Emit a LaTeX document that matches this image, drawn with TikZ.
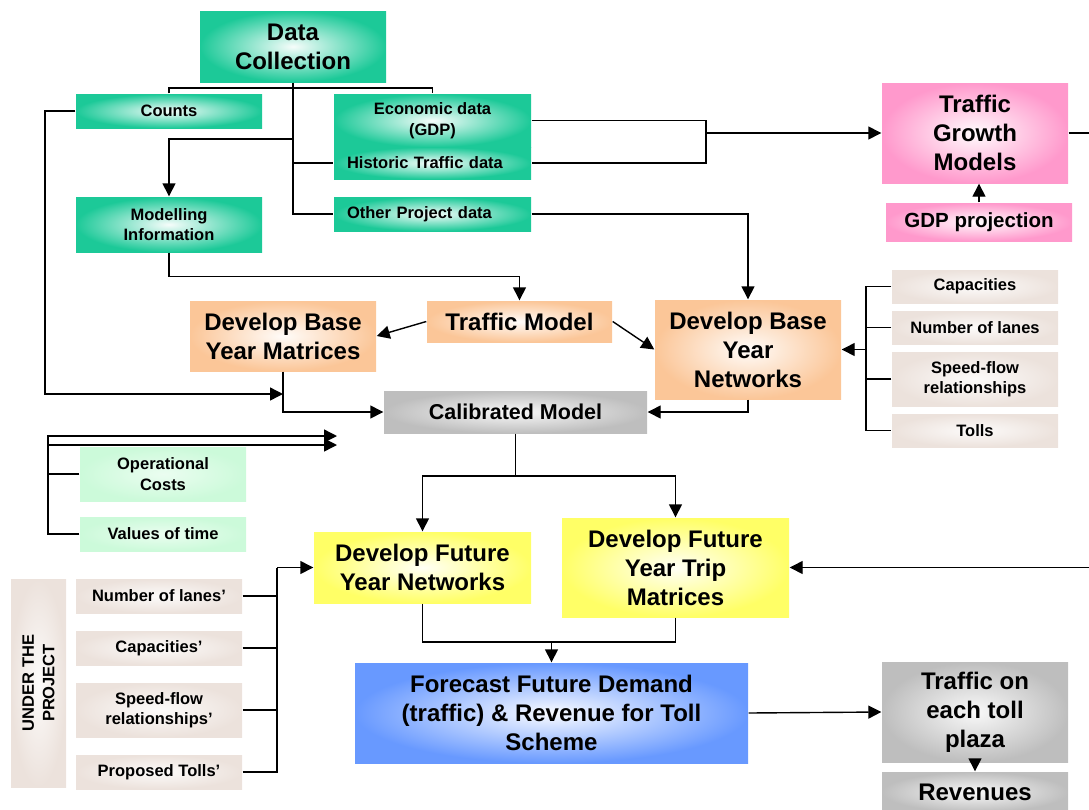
\documentclass[tikz,border=0pt]{standalone}
\usepackage{fontspec}
\setmainfont{Liberation Sans}
\usetikzlibrary{arrows.meta}
\definecolor{cTeal}{RGB}{28,201,152}
\definecolor{cPink}{RGB}{255,153,204}
\definecolor{cPeach}{RGB}{251,198,152}
\definecolor{cBeige}{RGB}{236,226,220}
\definecolor{cGray}{RGB}{190,190,190}
\definecolor{cLGreen}{RGB}{204,250,218}
\definecolor{cYellow}{RGB}{255,255,102}
\definecolor{cBlue}{RGB}{104,153,255}
\begin{document}
\begin{tikzpicture}[x=1pt,y=-1pt,line width=1.4pt,
  arr/.style={-{Triangle[length=13pt,width=13pt]}},
  bx/.style={inner sep=0pt,align=center,shade,shading=radial},
  big/.style={font=\fontsize{24}{29}\selectfont\bfseries},
  mid/.style={font=\fontsize{21.5}{26}\selectfont\bfseries},
  sm/.style={font=\fontsize{16.5}{20.5}\selectfont\bfseries},
  gr/.style={bx,inner color=cTeal!4!white,outer color=cTeal},
  pk/.style={bx,inner color=cPink!4!white,outer color=cPink},
  pe/.style={bx,inner color=cPeach!6!white,outer color=cPeach},
  be/.style={bx,inner color=cBeige!15!white,outer color=cBeige},
  gy/.style={bx,inner color=cGray!10!white,outer color=cGray},
  lg/.style={bx,inner color=cLGreen!40!white,outer color=cLGreen},
  ye/.style={bx,inner color=cYellow!6!white,outer color=cYellow},
  bl/.style={bx,inner color=cBlue!4!white,outer color=cBlue},
  sz/.style 2 args={minimum width=#1pt,minimum height=#2pt}
]
\useasboundingbox (0,0) rectangle (1089,809);

% top green boxes
\node[gr,big,sz={186}{71}] (dc) at (293,46.5) {Data\\Collection};
\node[gr,sm,sz={186}{34}] (counts) at (169,111) {Counts};
\node[gr,sm,sz={197}{53}] (econ) at (432.5,120.5) {Economic data\\(GDP)};
\node[gr,sm,inner xsep=13pt,text width=171pt,align=left,minimum height=32pt] (hist) at (432.5,163) {Historic Traffic data};
\node[gr,sm,sz={186}{55}] (mod) at (169,224.5) {Modelling\\Information};
\node[gr,sm,inner xsep=13pt,text width=171pt,align=left,minimum height=34pt] (other) at (432.5,214) {Other Project data};

% pink
\node[pk,big,sz={186}{100}] (tgm) at (975,133) {Traffic\\Growth\\Models};
\node[pk,font=\fontsize{20.5}{24}\selectfont\bfseries,sz={186}{38}] (gdp) at (979,222) {GDP projection};

% peach
\node[pe,big,sz={185}{41}] (tm) at (519.5,321.5) {Traffic Model};
\node[pe,big,sz={186}{70}] (bym) at (283,336) {Develop Base\\Year Matrices};
\node[pe,big,sz={186}{99}] (byn) at (748,349.5) {Develop Base\\Year\\Networks};

% beige right
\node[be,sm,sz={166}{33}] (cap) at (975,286.5) {Capacities};
\node[be,sm,sz={166}{33}] (nol) at (975,327.5) {Number of lanes};
\node[be,sm,sz={166}{54}] (sfr) at (975,379) {Speed-flow\\relationships};
\node[be,sm,sz={166}{33}] (tolls) at (975,430.5) {Tolls};

% calibrated
\node[gy,mid,sz={263}{42}] (cal) at (515.5,412) {Calibrated Model};

% light green
\node[lg,sm,sz={166}{54}] (opc) at (163,474) {Operational\\Costs};
\node[lg,sm,sz={166}{34}] (vot) at (163,534) {Values of time};

% yellow
\node[ye,big,sz={217}{71}] (fyn) at (422.5,567.5) {Develop Future\\Year Networks};
\node[ye,big,sz={227}{99}] (ftm) at (675.5,567.5) {Develop Future\\Year Trip\\Matrices};

% under the project
\node[be,sm,rotate=90,sz={208}{55}] (utp) at (38.5,683) {UNDER THE\\PROJECT};
\node[be,sm,sz={166}{34}] (nol2) at (159,596) {Number of lanes’};
\node[be,sm,sz={166}{34}] (cap2) at (159,648) {Capacities’};
\node[be,sm,sz={166}{54}] (sfr2) at (159,710) {Speed-flow\\relationships’};
\node[be,sm,sz={166}{34}] (pt2) at (159,772) {Proposed Tolls’};

% bottom
\node[bl,big,sz={393}{100}] (fc) at (551.5,713) {Forecast Future Demand\\(traffic) \& Revenue for Toll\\Scheme};
\node[gy,big,sz={186}{100}] (tp) at (975,712) {Traffic on\\each toll\\plaza};
\node[gy,big,sz={186}{40}] (rev) at (975,792) {Revenues};

% coordinates
\coordinate (t1) at (293,139);
\coordinate (t2) at (293,163);
\coordinate (j1) at (706,133);
\coordinate (e1) at (1089,133);
\coordinate (e2) at (1089,567.5);
\coordinate (c1) at (283,394);
\coordinate (b1) at (866,349.5);
\coordinate (s1) at (515.5,476);
\coordinate (d1) at (337,436);
\coordinate (d2) at (337,445);
\coordinate (u1) at (277,567.5);
\coordinate (m1) at (551.5,642);

% connectors
\draw (dc.south) |- (other.west);
\draw (counts.north) |- (293,88) -| (econ.north);
\draw[arr] (t1) -| (mod.north);
\draw (t2) -- (hist.west);
\draw (econ.east) -| (j1) |- (hist.east);
\draw[arr] (j1) -- (tgm.west);
\draw (tgm.east) -- (e1);
\draw[arr] (e2) -- (ftm.east);
\draw[arr] (gdp.north) -- (gdp.north |- tgm.south);
\draw[arr] (other.east) -| (byn.north);
\draw[arr] (mod.south) -- ++(0,24) -| (tm.north);
\draw[arr] (tm.west) -- (bym.east);
\draw[arr] (tm.east) -- (byn.west);
\draw[arr] (bym.south) |- (cal.west);
\draw[arr] (byn.south) |- (cal.east);
\draw[arr] (counts.west) -| (45,394) -- (c1);

\draw (cap.west) -| (b1 |- tolls.west) -- (tolls.west);
\draw (nol.west) -- (nol.west -| b1);
\draw (sfr.west) -- (sfr.west -| b1);
\draw[arr] (b1) -- (byn.east);

\draw (cal.south) -- (s1);
\draw[arr] (s1) -| (fyn.north);
\draw[arr] (s1) -| (ftm.north);

\draw[arr] (vot.west) -| (48,436) -- (d1);
\draw[arr] (48,445) -- (d2);
\draw (opc.west) -- (48,474);

\draw (nol2.east) -| (u1);
\draw (pt2.east) -| (u1);
\draw (cap2.east) -- (cap2.east -| u1);
\draw (sfr2.east) -- (sfr2.east -| u1);
\draw[arr] (u1) -- (fyn.west);

\draw (fyn.south) |- (m1);
\draw (ftm.south) |- (m1);
\draw[arr] (m1) -- (fc.north);
\draw[arr] (fc.east) -- (tp.west);
\draw[arr] (tp.south) -- (rev.north);
\end{tikzpicture}
\end{document}
